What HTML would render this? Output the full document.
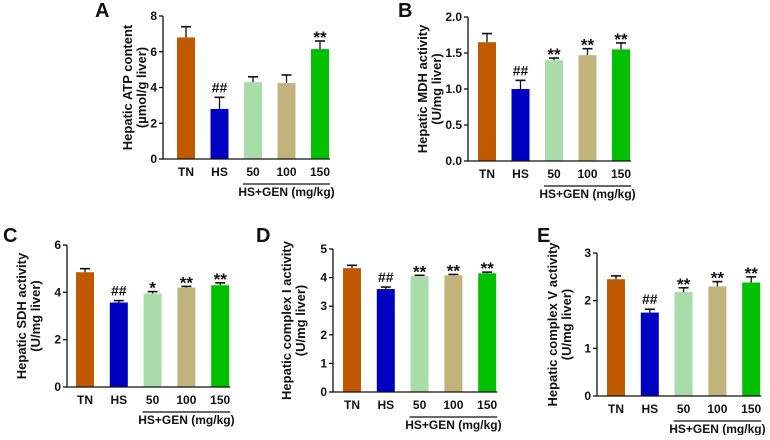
<!DOCTYPE html>
<html><head><meta charset="utf-8"><style>
body{margin:0;background:#fff;}
svg text{font-family:"Liberation Sans",Arial,sans-serif;font-weight:bold;fill:#111;}
</style></head><body>
<svg id="fig" width="770" height="435" viewBox="0 0 770 435" xmlns="http://www.w3.org/2000/svg"></svg>
<script>
const categories = ["TN","HS","50","100","150"];
const colors = ["#c05a00","#0000c0","#a8dca8","#c0b47c","#00c000"];
const valuesA = [6.8,2.8,4.3,4.25,6.15];
const errorsA = [0.6,0.65,0.3,0.45,0.45];
const marksA = ["","##","","","**"];
const valuesB = [1.65,1.0,1.4,1.47,1.55];
const errorsB = [0.12,0.12,0.03,0.09,0.09];
const marksB = ["","##","**","**","**"];
const valuesC = [4.85,3.57,3.95,4.2,4.3];
const errorsC = [0.15,0.08,0.08,0.05,0.1];
const marksC = ["","##","*","**","**"];
const valuesD = [4.33,3.6,4.05,4.08,4.15];
const errorsD = [0.1,0.07,0.03,0.03,0.04];
const marksD = ["","##","**","**","**"];
const valuesE = [2.45,1.75,2.18,2.3,2.38];
const errorsE = [0.07,0.07,0.09,0.1,0.12];
const marksE = ["","##","**","**","**"];
const ticksA = ["0","2","4","6","8"];
const ticksB = ["0.0","0.5","1.0","1.5","2.0"];
const ticksC = ["0","2","4","6"];
const ticksD = ["0","1","2","3","4","5"];
const ticksE = ["0","1","2","3"];

const svg = document.getElementById('fig');
const NS = "http://www.w3.org/2000/svg";
function mk(tag, attrs, parent){
  const e = document.createElementNS(NS, tag);
  for (const k in attrs) e.setAttribute(k, attrs[k]);
  (parent||svg).appendChild(e);
  return e;
}
function txt(s, x, y, size, anchor, parent){
  const t = mk('text', {x:x, y:y, 'font-size':size, 'text-anchor':anchor||'middle'}, parent);
  t.textContent = s;
  return t;
}
function panel(p){
  const g = mk('g', {});
  
  
  const ymax = parseFloat(p.ticks[p.ticks.length-1]);
  const yS = v => p.y0 - (v / ymax) * (p.y0 - p.yTop);
  const xS = i => p.first + i * p.pitch;
  const L = txt(p.letter, p.lx, p.ly, 20, 'start', g);
  
  
  categories.forEach((c, i) => {
    const v = p.values[i], e = p.errors[i];
    const x = xS(i);
    const ye = yS(v + e);
    const el = mk('line', {x1:x+p.bw/2, x2:x+p.bw/2, y1:yS(v), y2:ye, stroke:'#111', 'stroke-width':1.3}, g);
    
    
    const cap = mk('line', {x1:x+p.bw/2-5, x2:x+p.bw/2+5, y1:ye, y2:ye, stroke:'#111', 'stroke-width':1.6}, g);
    
    
    const r = mk('rect', {x:x, y:yS(v), width:p.bw, height:p.y0 - yS(v), fill:colors[i]}, g);
    
    
    if (p.marks[i]) {
      const star = p.marks[i][0]==='*';
      const m = txt(p.marks[i], x + p.bw/2, star ? ye + 2 : ye - 5, star ? 17 : 14, 'middle', g);
      
      
    }
    const t = txt(c, x + p.bw/2, p.y0 + 17, 12, 'middle', g);
    
    
  });
  const ax = mk('path', {d:`M${p.ax},${p.yTop} V${p.y0} H${xS(4)+p.bw+1}`, stroke:'#111', 'stroke-width':1.3, fill:'none'}, g);
  
  
  p.ticks.forEach(tk => {
    const y = yS(parseFloat(tk));
    const tl = mk('line', {x1:p.ax-4, x2:p.ax, y1:y, y2:y, stroke:'#111', 'stroke-width':1.3}, g);
    
    
    const tt = txt(tk, p.ax - 6, y + 4, 12, 'end', g);
    
    
  });
  const ul = mk('line', {x1:xS(2)-1, x2:xS(4)+p.bw+1, y1:p.y0+25, y2:p.y0+25, stroke:'#111', 'stroke-width':1.2}, g);
  
  
  const gl = txt('HS+GEN (mg/kg)', (xS(2)+xS(4)+p.bw)/2, p.y0 + 37, 12, 'middle', g);
  
  
  const cy = (p.yTop + p.y0)/2;
  const t1 = txt(p.title1, 0, 0, 13, 'middle', g);
  t1.setAttribute('transform', `translate(${p.tx},${cy}) rotate(-90)`);
  
  
  const t2 = txt(p.title2, 0, 0, 13, 'middle', g);
  t2.setAttribute('transform', `translate(${p.tx+14},${cy}) rotate(-90)`);
  
  
}
panel({letter:'A', lx:95, ly:17, ax:163, yTop:16, y0:159, first:177, pitch:33.5, bw:18, values:valuesA, errors:errorsA, marks:marksA, ticks:ticksA, title1:'Hepatic ATP content', title2:'(µmol/g liver)', tx:132});
panel({letter:'B', lx:398, ly:17, ax:468, yTop:17, y0:161, first:478, pitch:33.5, bw:18, values:valuesB, errors:errorsB, marks:marksB, ticks:ticksB, title1:'Hepatic MDH activity', title2:'(U/mg liver)', tx:427});
panel({letter:'C', lx:3, ly:242, ax:67, yTop:245, y0:387, first:76, pitch:33.8, bw:18, values:valuesC, errors:errorsC, marks:marksC, ticks:ticksC, title1:'Hepatic SDH activity', title2:'(U/mg liver)', tx:26});
panel({letter:'D', lx:256, ly:242, ax:333, yTop:249, y0:392, first:343, pitch:33.8, bw:18, values:valuesD, errors:errorsD, marks:marksD, ticks:ticksD, title1:'Hepatic complex I activity', title2:'(U/mg liver)', tx:291});
panel({letter:'E', lx:537, ly:242, ax:597, yTop:253, y0:396, first:607, pitch:33.8, bw:18, values:valuesE, errors:errorsE, marks:marksE, ticks:ticksE, title1:'Hepatic complex V activity', title2:'(U/mg liver)', tx:557});
</script>
</body></html>
